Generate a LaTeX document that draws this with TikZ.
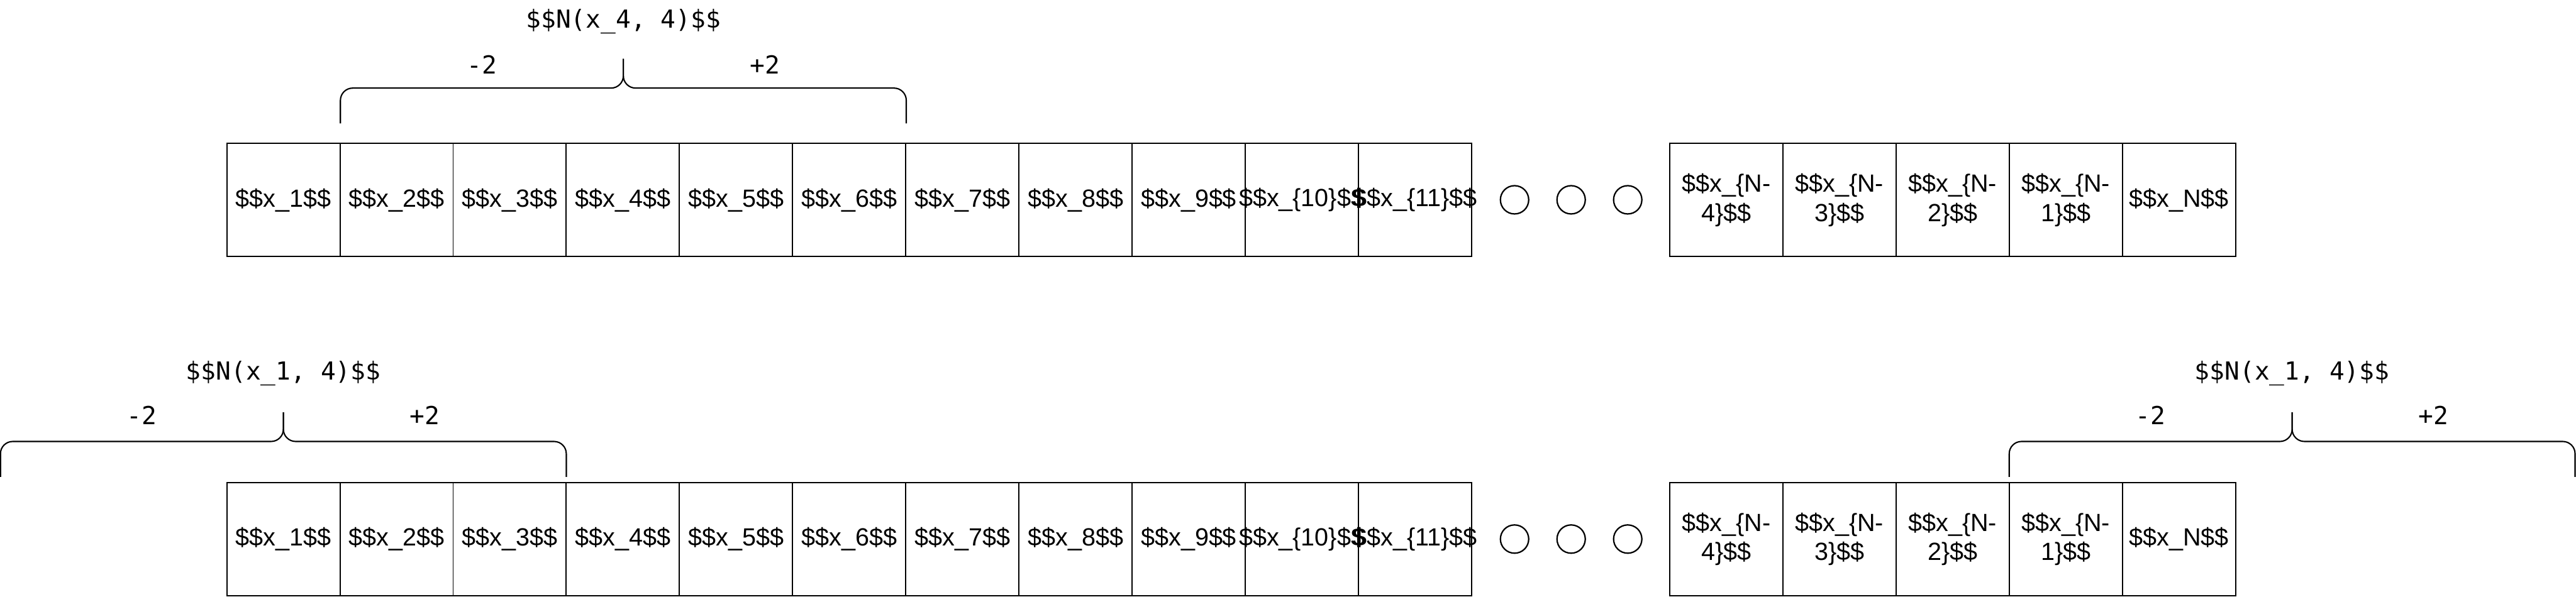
\documentclass[tikz,border=0pt]{standalone}
\usepackage{fontspec}
\setmainfont{Liberation Sans}
\newfontfamily\monofont{DejaVu Sans Mono}

\begin{document}
\begin{tikzpicture}[
        x=2.4cm, y=2.4cm,
        cell/.style={rectangle, draw, line width=0.75pt, minimum width=2.4cm, minimum height=2.4cm, inner sep=0pt, align=center, font=\fontsize{15}{17.6}\selectfont},
        dot/.style={circle, draw, line width=0.85pt, minimum size=0.6cm, inner sep=0pt},
        brace/.style={line width=0.8pt, rounded corners=0.26cm},
        lbl/.style={font=\monofont\fontsize{15}{17}\selectfont}
    ]
        \useasboundingbox (0,0) rectangle (22.7625,-5.275);

        % top row
        \node[cell] (t1) at (2.504,-1.769) {\$\$x\_1\$\$};
        \node[cell] (t2) at (3.504,-1.769) {\$\$x\_2\$\$};
        \node[cell] (t3) at (4.504,-1.769) {\$\$x\_3\$\$};
        \node[cell] (t4) at (5.504,-1.769) {\$\$x\_4\$\$};
        \node[cell] (t5) at (6.504,-1.769) {\$\$x\_5\$\$};
        \node[cell] (t6) at (7.504,-1.769) {\$\$x\_6\$\$};
        \node[cell] (t7) at (8.504,-1.769) {\$\$x\_7\$\$};
        \node[cell] (t8) at (9.504,-1.769) {\$\$x\_8\$\$};
        \node[cell] (t9) at (10.504,-1.769) {\$\$x\_9\$\$};
        \node[cell] (t10) at (11.504,-1.769) {\makebox[0pt]{\$\$x\_\{10\}\$\$}};
        \node[cell] (t11) at (12.504,-1.769) {\makebox[0pt]{\$\$x\_\{11\}\$\$}};
        \node[dot] (td1) at (13.383,-1.767) {};
        \node[dot] (td2) at (13.883,-1.767) {};
        \node[dot] (td3) at (14.383,-1.767) {};
        \node[cell] (tn4) at (15.254,-1.769) {\$\$x\_\{N-\\4\}\$\$};
        \node[cell] (tn3) at (16.254,-1.769) {\$\$x\_\{N-\\3\}\$\$};
        \node[cell] (tn2) at (17.254,-1.769) {\$\$x\_\{N-\\2\}\$\$};
        \node[cell] (tn1) at (18.254,-1.769) {\$\$x\_\{N-\\1\}\$\$};
        \node[cell] (tn) at (19.254,-1.769) {\$\$x\_N\$\$};

        % bottom row
        \node[cell] (b1) at (2.504,-4.767) {\$\$x\_1\$\$};
        \node[cell] (b2) at (3.504,-4.767) {\$\$x\_2\$\$};
        \node[cell] (b3) at (4.504,-4.767) {\$\$x\_3\$\$};
        \node[cell] (b4) at (5.504,-4.767) {\$\$x\_4\$\$};
        \node[cell] (b5) at (6.504,-4.767) {\$\$x\_5\$\$};
        \node[cell] (b6) at (7.504,-4.767) {\$\$x\_6\$\$};
        \node[cell] (b7) at (8.504,-4.767) {\$\$x\_7\$\$};
        \node[cell] (b8) at (9.504,-4.767) {\$\$x\_8\$\$};
        \node[cell] (b9) at (10.504,-4.767) {\$\$x\_9\$\$};
        \node[cell] (b10) at (11.504,-4.767) {\makebox[0pt]{\$\$x\_\{10\}\$\$}};
        \node[cell] (b11) at (12.504,-4.767) {\makebox[0pt]{\$\$x\_\{11\}\$\$}};
        \node[dot] (bd1) at (13.383,-4.767) {};
        \node[dot] (bd2) at (13.883,-4.767) {};
        \node[dot] (bd3) at (14.383,-4.767) {};
        \node[cell] (bn4) at (15.254,-4.767) {\$\$x\_\{N-\\4\}\$\$};
        \node[cell] (bn3) at (16.254,-4.767) {\$\$x\_\{N-\\3\}\$\$};
        \node[cell] (bn2) at (17.254,-4.767) {\$\$x\_\{N-\\2\}\$\$};
        \node[cell] (bn1) at (18.254,-4.767) {\$\$x\_\{N-\\1\}\$\$};
        \node[cell] (bn) at (19.254,-4.767) {\$\$x\_N\$\$};

        % neighbourhood of x_4
        \coordinate (tl) at (3.008,-1.092);
        \coordinate (tr) at (8.008,-1.092);
        \coordinate (tm) at (5.508,-0.779);
        \coordinate (ttip) at (5.508,-0.521);
        \draw[brace] (tl) |- (tm) -- (ttip);
        \draw[brace] (ttip) -- (tm) -| (tr);
        \node[lbl] (ttitle) at (5.508,-0.192) {\$\$N(x\_4, 4)\$\$};
        \node[lbl] (tminus) at (4.258,-0.570) {-2};
        \node[lbl] (tplus) at (6.758,-0.570) {+2};

        % neighbourhood of x_1, left side
        \coordinate (bll) at (0.004,-4.217);
        \coordinate (blr) at (5.004,-4.217);
        \coordinate (blm) at (2.504,-3.904);
        \coordinate (bltip) at (2.504,-3.646);
        \draw[brace] (bll) |- (blm) -- (bltip);
        \draw[brace] (bltip) -- (blm) -| (blr);
        \node[lbl] (bltitle) at (2.504,-3.304) {\$\$N(x\_1, 4)\$\$};
        \node[lbl] (blminus) at (1.254,-3.675) {-2};
        \node[lbl] (blplus) at (3.754,-3.675) {+2};

        % neighbourhood of x_1, right side
        \coordinate (brl) at (17.754,-4.217);
        \coordinate (brr) at (22.754,-4.217);
        \coordinate (brm) at (20.254,-3.904);
        \coordinate (brtip) at (20.254,-3.646);
        \draw[brace] (brl) |- (brm) -- (brtip);
        \draw[brace] (brtip) -- (brm) -| (brr);
        \node[lbl] (brtitle) at (20.254,-3.304) {\$\$N(x\_1, 4)\$\$};
        \node[lbl] (brminus) at (19.004,-3.675) {-2};
        \node[lbl] (brplus) at (21.504,-3.675) {+2};
    \end{tikzpicture}
\end{document}
